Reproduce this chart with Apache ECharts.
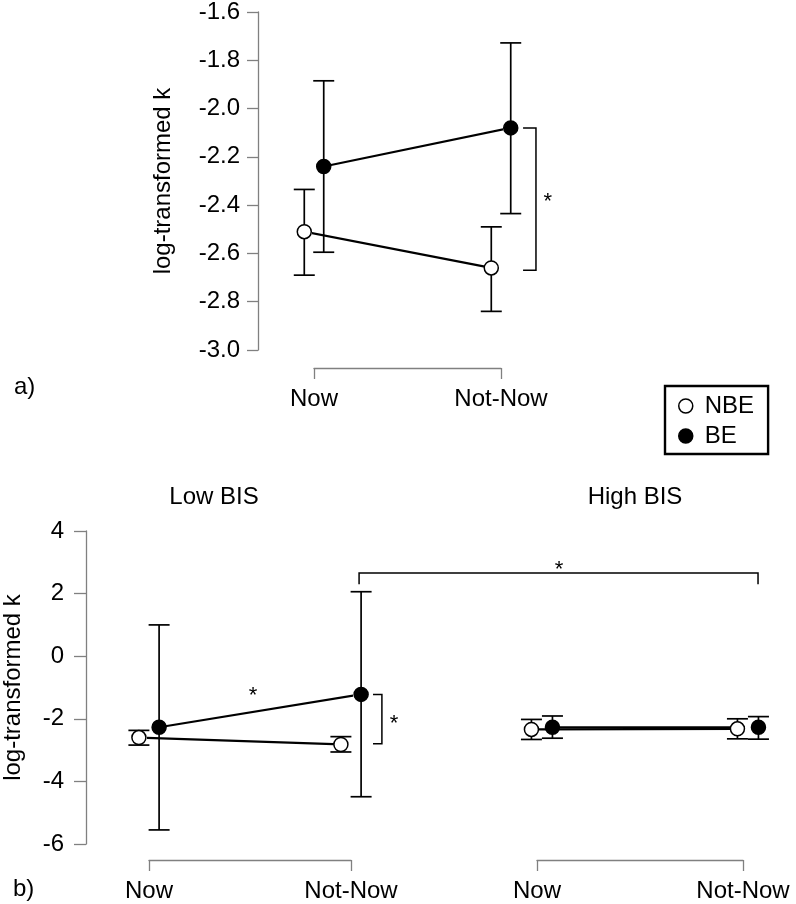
<!DOCTYPE html>
<html>
<head>
<meta charset="utf-8">
<script src="https://cdn.jsdelivr.net/npm/echarts@6/dist/echarts.min.js"></script>
<style>html,body{margin:0;padding:0;background:#fff;}#c{width:796px;height:904px;}</style>
</head>
<body>
<div id="c"></div>
<script>
// ---- data ----
const categories = ['Now', 'Not-Now'];
const seriesNames = ['NBE', 'BE'];
// panel a
const aNBE = [-2.51, -2.66];
const aNBE_lo = [-2.69, -2.84];
const aNBE_hi = [-2.335, -2.49];
const aBE = [-2.24, -2.08];
const aBE_lo = [-2.595, -2.435];
const aBE_hi = [-1.885, -1.728];
// panel b, Low BIS
const lowNBE = [-2.60, -2.82];
const lowNBE_lo = [-2.84, -3.06];
const lowNBE_hi = [-2.37, -2.57];
const lowBE = [-2.27, -1.22];
const lowBE_lo = [-5.55, -4.49];
const lowBE_hi = [1.00, 2.06];
// panel b, High BIS
const highNBE = [-2.34, -2.32];
const highNBE_lo = [-2.66, -2.64];
const highNBE_hi = [-2.02, -2.00];
const highBE = [-2.27, -2.27];
const highBE_lo = [-2.62, -2.65];
const highBE_hi = [-1.91, -1.93];
// tick labels
const aTicks = [-3.0, -2.8, -2.6, -2.4, -2.2, -2.0, -1.8, -1.6];
const bTicks = [-6, -4, -2, 0, 2, 4];

const FONT = 'Liberation Sans, Arial, sans-serif';
const FS = 24;
const AXIS_COL = '#808080';

function pts(vals, off) { return vals.map((v, i) => [i + 1 + off, v]); }
function errs(lo, hi, off) { return lo.map((l, i) => [i + 1 + off, l, hi[i]]); }

function errSeries(grid, data, z) {
  return {
    type: 'custom', xAxisIndex: grid, yAxisIndex: grid, clip: false, z: z, silent: true,
    data: data,
    renderItem: function (params, api) {
      const x = api.value(0);
      const p1 = api.coord([x, api.value(1)]);
      const p2 = api.coord([x, api.value(2)]);
      const w = 10.5;
      const st = { stroke: '#000', lineWidth: 1.7 };
      return { type: 'group', children: [
        { type: 'line', shape: { x1: p1[0], y1: p1[1], x2: p2[0], y2: p2[1] }, style: st },
        { type: 'line', shape: { x1: p1[0] - w, y1: p1[1], x2: p1[0] + w, y2: p1[1] }, style: st },
        { type: 'line', shape: { x1: p2[0] - w, y1: p2[1], x2: p2[0] + w, y2: p2[1] }, style: st }
      ]};
    }
  };
}

function lineSeries(grid, name, data, filled) {
  return {
    type: 'line', name: name, xAxisIndex: grid, yAxisIndex: grid, clip: false, z: 5,
    data: data, symbol: 'circle', symbolSize: 14, showSymbol: true,
    lineStyle: { color: '#000', width: 2.2 },
    itemStyle: { color: filled ? '#000' : '#fff', borderColor: '#000', borderWidth: 1.5 },
    emphasis: { disabled: true }, animation: false
  };
}

// bracket paths in data coords plus star labels
function annotSeries(grid, paths, stars) {
  return {
    type: 'custom', xAxisIndex: grid, yAxisIndex: grid, clip: false, z: 4, silent: true,
    data: [0],
    renderItem: function (params, api) {
      const children = [];
      paths.forEach(p => {
        children.push({ type: 'polyline', shape: { points: p.map(q => api.coord(q)) },
          style: { stroke: '#000', lineWidth: 1.5, fill: null } });
      });
      stars.forEach(s => {
        const c = api.coord(s);
        children.push({ type: 'text', x: c[0], y: c[1] + 4,
          style: { text: '*', font: '22px ' + FONT, fill: '#000', align: 'center', verticalAlign: 'middle' } });
      });
      return { type: 'group', children: children };
    }
  };
}

function xAx(grid, offset) {
  return {
    type: 'value', gridIndex: grid, min: 1, max: 2, interval: 1, position: 'bottom', offset: offset,
    axisLine: { show: true, onZero: false, lineStyle: { color: AXIS_COL, width: 1.3 } },
    axisTick: { show: true, length: 11, lineStyle: { color: AXIS_COL, width: 1.3 } },
    axisLabel: { show: true, margin: 19, color: '#000', fontSize: FS, fontFamily: FONT,
      formatter: v => categories[Math.round(v) - 1] },
    splitLine: { show: false }
  };
}

const chart = echarts.init(document.getElementById('c'), null, { renderer: 'canvas' });
const option = {
  animation: false,
  backgroundColor: '#fff',
  grid: [
    { left: 314, top: 11, width: 187, height: 339 },
    { left: 149, top: 531, width: 202, height: 313 },
    { left: 537, top: 531, width: 206, height: 313 }
  ],
  xAxis: [xAx(0, 18), xAx(1, 16), xAx(2, 16)],
  yAxis: [
    { type: 'value', gridIndex: 0, min: aTicks[0], max: aTicks[aTicks.length - 1], interval: 0.2, offset: 56,
      axisLine: { show: true, lineStyle: { color: AXIS_COL, width: 1.3 } },
      axisTick: { show: true, length: 11, lineStyle: { color: AXIS_COL, width: 1.3 } },
      axisLabel: { margin: 18, color: '#000', fontSize: FS, fontFamily: FONT, formatter: v => v.toFixed(1) },
      splitLine: { show: false },
      name: 'log-transformed k', nameLocation: 'middle', nameGap: 83, nameRotate: 90,
      nameTextStyle: { color: '#000', fontSize: FS, fontFamily: FONT } },
    { type: 'value', gridIndex: 1, min: bTicks[0], max: bTicks[bTicks.length - 1], interval: 2, offset: 63,
      axisLine: { show: true, lineStyle: { color: AXIS_COL, width: 1.3 } },
      axisTick: { show: true, length: 12, lineStyle: { color: AXIS_COL, width: 1.3 } },
      axisLabel: { margin: 22, color: '#000', fontSize: FS, fontFamily: FONT },
      splitLine: { show: false },
      name: 'log-transformed k', nameLocation: 'middle', nameGap: 61, nameRotate: 90,
      nameTextStyle: { color: '#000', fontSize: FS, fontFamily: FONT } },
    { type: 'value', gridIndex: 2, min: bTicks[0], max: bTicks[bTicks.length - 1], interval: 2,
      show: false }
  ],
  legend: {
    orient: 'vertical', left: 665, top: 386,
    borderColor: '#000', borderWidth: 2.4, padding: [8, 14, 6, 13], itemGap: 6,
    itemWidth: 14, itemHeight: 14, selectedMode: false,
    textStyle: { color: '#000', fontSize: FS, fontFamily: FONT, padding: [0, 0, 0, 7] },
    data: [
      { name: 'NBE', icon: 'circle', itemStyle: { color: '#fff', borderColor: '#000', borderWidth: 1.5 } },
      { name: 'BE', icon: 'circle', itemStyle: { color: '#000', borderColor: '#000', borderWidth: 1.5 } }
    ]
  },
  graphic: [
    { type: 'text', x: 14, y: 387, style: { text: 'a)', font: FS + 'px ' + FONT, fill: '#000', verticalAlign: 'middle' } },
    { type: 'text', x: 13, y: 889, style: { text: 'b)', font: FS + 'px ' + FONT, fill: '#000', verticalAlign: 'middle' } },
    { type: 'text', x: 214, y: 497, style: { text: 'Low BIS', font: FS + 'px ' + FONT, fill: '#000', align: 'center', verticalAlign: 'middle' } },
    { type: 'text', x: 635, y: 497, style: { text: 'High BIS', font: FS + 'px ' + FONT, fill: '#000', align: 'center', verticalAlign: 'middle' } }
  ],
  series: [
    // panel a
    errSeries(0, errs(aNBE_lo, aNBE_hi, -0.052), 2),
    errSeries(0, errs(aBE_lo, aBE_hi, 0.052), 2),
    lineSeries(0, seriesNames[0], pts(aNBE, -0.052), false),
    lineSeries(0, seriesNames[1], pts(aBE, 0.052), true),
    annotSeries(0, [[[2.118, aBE[1]], [2.187, aBE[1]], [2.187, aNBE[1] - 0.01], [2.118, aNBE[1] - 0.01]]],
      [[2.25, -2.37]]),
    // Low BIS
    errSeries(1, errs(lowNBE_lo, lowNBE_hi, -0.05), 2),
    errSeries(1, errs(lowBE_lo, lowBE_hi, 0.05), 2),
    lineSeries(1, seriesNames[0], pts(lowNBE, -0.05), false),
    lineSeries(1, seriesNames[1], pts(lowBE, 0.05), true),
    annotSeries(1, [
        [[2.109, lowBE[1]], [2.153, lowBE[1]], [2.153, -2.8], [2.109, -2.8]],
        [[2.04, 2.3], [2.04, 2.66], [4.015, 2.66], [4.015, 2.3]]
      ],
      [[2.213, -2.04], [1.515, -1.14], [3.03, 2.88]]),
    // High BIS
    errSeries(2, errs(highNBE_lo, highNBE_hi, -0.027), 2),
    errSeries(2, errs(highBE_lo, highBE_hi, 0.075), 2),
    lineSeries(2, seriesNames[0], pts(highNBE, -0.027), false),
    lineSeries(2, seriesNames[1], pts(highBE, 0.075), true)
  ]
};
chart.setOption(option);
</script>
</body>
</html>
